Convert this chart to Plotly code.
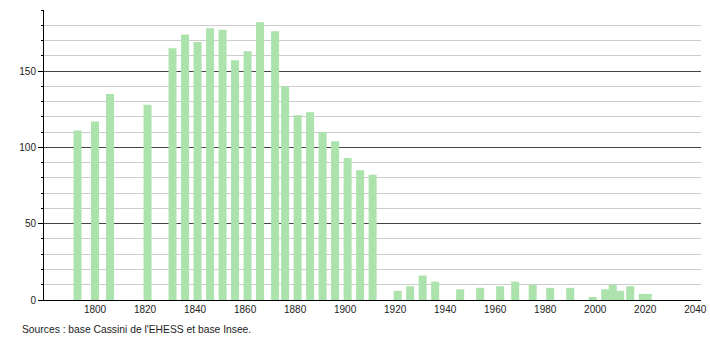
import plotly.graph_objects as go

years = [1793, 1800, 1806, 1821, 1831, 1836, 1841, 1846, 1851, 1856, 1861, 1866,
         1872, 1876, 1881, 1886, 1891, 1896, 1901, 1906, 1911, 1921, 1926, 1931,
         1936, 1946, 1954, 1962, 1968, 1975, 1982, 1990, 1999, 2004, 2007, 2010,
         2014, 2019, 2021]
population = [111, 117, 135, 128, 165, 174, 169, 178, 177, 157, 163, 182,
              176, 140, 121, 123, 110, 104, 93, 85, 82, 6, 9, 16,
              12, 7, 8, 9, 12, 10, 8, 8, 2, 7, 10, 6,
              9, 4, 4]
x_ticks = [1800, 1820, 1840, 1860, 1880, 1900, 1920, 1940, 1960, 1980, 2000, 2020, 2040]
y_ticks = [0, 50, 100, 150]
source_text = "Sources : base Cassini de l'EHESS et base Insee."

fig = go.Figure()
fig.add_trace(go.Bar(
    x=years, y=population, width=3.2,
    marker=dict(color="rgb(172,226,172)", line=dict(width=0)),
    hoverinfo="x+y",
))

font = "Liberation Sans, Arial, sans-serif"
fig.update_layout(
    width=710, height=340,
    margin=dict(l=44, r=9, t=10, b=40, autoexpand=False),
    plot_bgcolor="white", paper_bgcolor="white",
    showlegend=False,
    font=dict(family=font, size=10, color="#222"),
    xaxis=dict(
        range=[1779.6, 2042.3], automargin=False,
        tickvals=x_ticks, ticktext=[str(t) for t in x_ticks],
        showgrid=False, zeroline=False,
        showline=True, linecolor="black", linewidth=1,
        ticks="", tickfont=dict(size=10, color="#222"),
    ),
    yaxis=dict(
        range=[0, 190], automargin=False,
        tickvals=y_ticks,
        showgrid=True, gridcolor="#444", gridwidth=1,
        zeroline=False,
        showline=True, linecolor="black", linewidth=1,
        ticks="outside", ticklen=5, tickcolor="black",
        tickfont=dict(size=10, color="#222"),
        minor=dict(dtick=10, showgrid=True, gridcolor="#cccccc", gridwidth=1,
                   ticks="outside", ticklen=2, tickcolor="black"),
    ),
    annotations=[dict(
        text=source_text, xref="paper", yref="paper",
        x=-0.0365, y=-0.1, xanchor="left", yanchor="middle",
        showarrow=False, font=dict(family=font, size=10.3, color="#222"),
    )],
)

fig.write_html("out.html")
